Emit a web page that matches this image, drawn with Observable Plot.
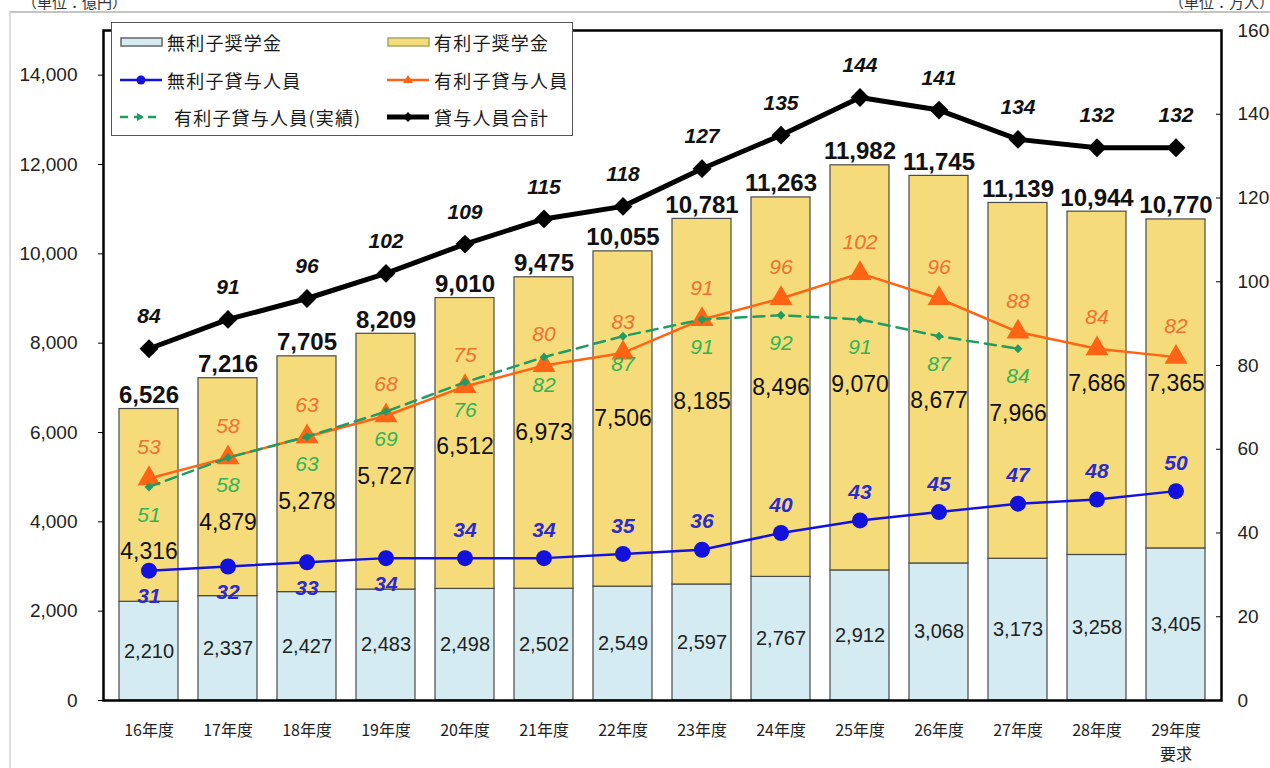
<!DOCTYPE html>
<html lang="ja">
<head>
<meta charset="utf-8">
<script src="https://cdn.jsdelivr.net/npm/d3@7"></script>
<script src="https://cdn.jsdelivr.net/npm/@observablehq/plot@0.6"></script>
<style>
  body { margin: 0; background: #fff; }
  #wrap { position: relative; width: 1270px; height: 768px; overflow: hidden; background: #fff; }
  #border { position: absolute; left: 9px; top: 11px; right: -20px; bottom: -20px;
            border-top: 2px solid #c4c4c4; border-left: 2px solid #dcdcdc; }
  #chart { position: absolute; left: 0; top: 0; }
  .unit { position: absolute; top: -9px; font: 15px "Noto Sans CJK JP", sans-serif; color: #333; }
  #unitL { left: 22px; }
  #unitR { right: -4px; }
  #legend { position: absolute; left: 111px; top: 22px; width: 462px; height: 114px;
            border: 1.5px solid #555; background: #fff; box-sizing: border-box;
            font: 18px "Noto Sans CJK JP", sans-serif; color: #1a1a1a; }
  .item { position: absolute; display: flex; align-items: center; height: 24px; }
  .item svg { display: block; }
  .item span { margin-left: 3px; letter-spacing: 1.2px; }
</style>
</head>
<body>
<div id="wrap">
  <div id="border"></div>
  <div id="chart"></div>
  <div class="unit" id="unitL">（単位：億円）</div>
  <div class="unit" id="unitR">（単位：万人）</div>
  <div id="legend"></div>
</div>
<script>
// 年度
const years = ["16年度","17年度","18年度","19年度","20年度","21年度","22年度",
               "23年度","24年度","25年度","26年度","27年度","28年度","29年度"];
const yearTickLabels = ["16年度","17年度","18年度","19年度","20年度","21年度","22年度",
               "23年度","24年度","25年度","26年度","27年度","28年度","29年度\n要求"];

// 事業費（億円）
const interestFreeAmount   = [2210, 2337, 2427, 2483, 2498, 2502, 2549, 2597, 2767, 2912, 3068, 3173, 3258, 3405];
const interestBearingAmount = [4316, 4879, 5278, 5727, 6512, 6973, 7506, 8185, 8496, 9070, 8677, 7966, 7686, 7365];
const totalAmount          = [6526, 7216, 7705, 8209, 9010, 9475, 10055, 10781, 11263, 11982, 11745, 11139, 10944, 10770];

// 貸与人員（万人）
const interestFreeBorrowers    = [31, 32, 33, 34, 34, 34, 35, 36, 40, 43, 45, 47, 48, 50];
const interestBearingBorrowers = [53, 58, 63, 68, 75, 80, 83, 91, 96, 102, 96, 88, 84, 82];
const interestBearingActual    = [51, 58, 63, 69, 76, 82, 87, 91, 92, 91, 87, 84];
const totalBorrowers           = [84, 91, 96, 102, 109, 115, 118, 127, 135, 144, 141, 134, 132, 132];

// 左軸 0–15,000 億円、右軸 0–160 万人（右軸の値は左軸の単位に換算して描く）
const yMax = 15000, pMax = 160, k = yMax / pMax;
const leftTicks = d3.range(0, 14001, 2000);
const rightTicks = d3.range(0, 161, 20);

const colFree = "#d5ebf2", colBearing = "#f6db7a";
const blue = "#1212dc", orange = "#ff6414", green = "#1f9c62";
const numFont = "'Liberation Sans', Arial, sans-serif";
const jpFont = "'Noto Sans CJK JP', sans-serif";
const fmt = d3.format(",");

const bars = years.flatMap((year, i) => [
  {year, type: "無利子奨学金", value: interestFreeAmount[i]},
  {year, type: "有利子奨学金", value: interestBearingAmount[i]}
]);
const series = vals => vals.map((v, i) => ({year: years[i], v, y: v * k, i}));
const freeS = series(interestFreeBorrowers);
const bearS = series(interestBearingBorrowers);
const actS = series(interestBearingActual);
const totS = series(totalBorrowers);

// 有利子奨学金の金額ラベル: 区間の中央、ただし実績線のラベルより下に置く
const bearingLabelY = (d, i) => {
  const mid = interestFreeAmount[i] + interestBearingAmount[i] / 2;
  const a = interestBearingActual[i];
  return a === undefined ? mid : Math.min(mid, a * k - 1450);
};

const lineLabel = (data, color, dy, weight = "bold") => Plot.text(data, {
  x: "year", y: "y", text: d => String(d.v), dy,
  fill: color, fontSize: 21, fontStyle: "italic", fontWeight: weight, fontFamily: numFont
});

const chart = Plot.plot({
  width: 1270, height: 768,
  marginLeft: 103, marginRight: 49, marginTop: 30, marginBottom: 68,
  style: {background: "transparent", overflow: "visible"},
  x: {type: "band", domain: years, paddingInner: 0.25, paddingOuter: 0.125, axis: null},
  y: {domain: [0, yMax], axis: null},
  color: {domain: ["無利子奨学金", "有利子奨学金"], range: [colFree, colBearing]},
  marks: [
    Plot.barY(bars, {x: "year", y: "value", fill: "type", stroke: "#4a4a4a", strokeWidth: 1.2}),
    Plot.frame({stroke: "#000", strokeWidth: 2.5}),
    // 左軸（億円）
    Plot.axisY(leftTicks, {anchor: "left", tickSize: 5, tickPadding: 21, tickFormat: fmt,
      fontSize: 19, fontFamily: numFont, fill: "#222", label: null}),
    // 右軸（万人）
    Plot.axisY(rightTicks.map(v => v * k), {anchor: "right", tickSize: 6, dx: -6, text: null, label: null}),
    Plot.axisY(rightTicks.map(v => v * k), {anchor: "right", tickSize: 0, tickPadding: 16,
      tickFormat: d => String(Math.round(d / k)), fontSize: 19, fontFamily: numFont, fill: "#222", label: null}),
    // 年度
    Plot.axisX({anchor: "bottom", tickSize: 0, tickPadding: 18, lineHeight: 1.5,
      tickFormat: d => yearTickLabels[years.indexOf(d)],
      fontSize: 16, fontFamily: jpFont, fill: "#222", label: null}),

    // 金額ラベル
    Plot.text(years, {x: d => d, y: (d, i) => interestFreeAmount[i] / 2,
      text: (d, i) => fmt(interestFreeAmount[i]),
      fontSize: 20, fontFamily: numFont, fill: "#222"}),
    Plot.text(years, {x: d => d, y: bearingLabelY,
      text: (d, i) => fmt(interestBearingAmount[i]),
      fontSize: 23, fontFamily: numFont, fill: "#111"}),
    Plot.text(years, {x: d => d, y: (d, i) => totalAmount[i],
      text: (d, i) => fmt(totalAmount[i]), lineAnchor: "bottom", dy: -6,
      fontSize: 24, fontWeight: "bold", fontFamily: numFont, fill: "#111"}),

    // 貸与人員の折れ線
    Plot.line(freeS, {x: "year", y: "y", stroke: blue, strokeWidth: 2.5}),
    Plot.dot(freeS, {x: "year", y: "y", r: 8, fill: blue, symbol: "circle"}),
    Plot.line(bearS, {x: "year", y: "y", stroke: orange, strokeWidth: 2.5}),
    Plot.dot(bearS, {x: "year", y: "y", r: 8.5, fill: orange, symbol: "triangle"}),
    Plot.line(actS, {x: "year", y: "y", stroke: green, strokeWidth: 2.5, strokeDasharray: "11,7"}),
    Plot.dot(actS, {x: "year", y: "y", r: 4, fill: green, symbol: "diamond2"}),
    Plot.line(totS, {x: "year", y: "y", stroke: "#000", strokeWidth: 5}),
    Plot.dot(totS, {x: "year", y: "y", r: 8.5, fill: "#000", symbol: "diamond2"}),

    // 人数ラベル
    lineLabel(freeS.filter(d => d.i < 4), "#2a2ad0", 26),
    lineLabel(freeS.filter(d => d.i >= 4), "#2a2ad0", -28),
    lineLabel(bearS, "#f07030", -31, "normal"),
    lineLabel(actS, "#2fb455", 28, "normal"),
    lineLabel(totS, "#111", -32)
  ]
});
document.getElementById("chart").append(chart);

// 凡例
const legendItems = [
  {label: "無利子奨学金", x: 8, y: 7, kind: "rect", fill: colFree, stroke: "#666"},
  {label: "有利子奨学金", x: 275, y: 7, kind: "rect", fill: colBearing, stroke: "#a8a860"},
  {label: "無利子貸与人員", x: 8, y: 45, kind: "line", color: blue, marker: "circle"},
  {label: "有利子貸与人員", x: 275, y: 45, kind: "line", color: orange, marker: "triangle"},
  {label: "有利子貸与人員(実績)", x: 8, y: 82, kind: "dash", color: green, marker: "small"},
  {label: "貸与人員合計", x: 275, y: 82, kind: "line", color: "#000", marker: "diamond", width: 5}
];
const legend = document.getElementById("legend");
for (const it of legendItems) {
  const div = document.createElement("div");
  div.className = "item";
  div.style.left = it.x + "px";
  div.style.top = it.y + "px";
  let sw = "";
  if (it.kind === "rect") {
    sw = `<rect x="1" y="8" width="41" height="8" fill="${it.fill}" stroke="${it.stroke}" stroke-width="1.5"/>`;
  } else if (it.kind === "dash") {
    sw = `<line x1="0" y1="12" x2="40" y2="12" stroke="${it.color}" stroke-width="2.5" stroke-dasharray="8,6"/>
          <path d="M17,8 L24,12 L17,16 Z" fill="${it.color}"/>`;
  } else {
    let m = "";
    if (it.marker === "circle") m = `<circle cx="21" cy="12" r="4.5" fill="${it.color}"/>`;
    if (it.marker === "triangle") m = `<path d="M21,7 L26,15 L16,15 Z" fill="${it.color}"/>`;
    if (it.marker === "diamond") m = `<path d="M21,7 L26,12 L21,17 L16,12 Z" fill="${it.color}"/>`;
    sw = `<line x1="0" y1="12" x2="42" y2="12" stroke="${it.color}" stroke-width="${it.width || 2.5}"/>${m}`;
  }
  div.innerHTML = `<svg width="44" height="24">${sw}</svg><span>${it.label}</span>`;
  if (it.kind === "dash") div.querySelector("span").style.marginLeft = "10px";
  legend.append(div);
}
</script>
</body>
</html>
